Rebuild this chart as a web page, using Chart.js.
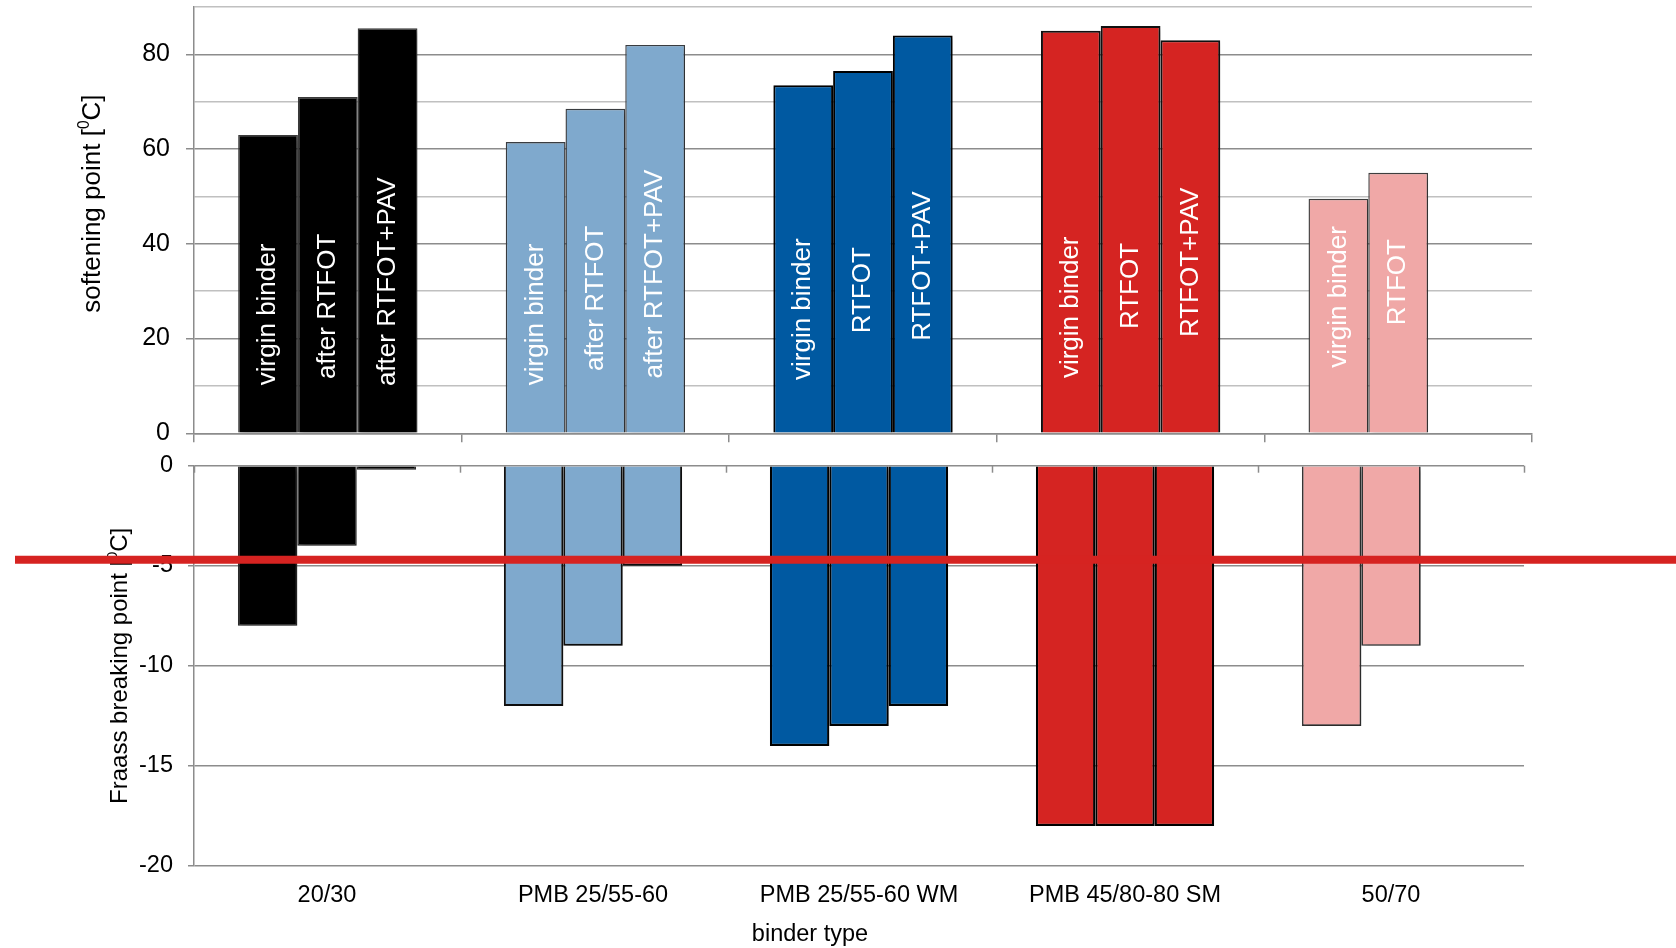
<!DOCTYPE html>
<html>
<head>
<meta charset="utf-8">
<script src="https://cdn.jsdelivr.net/npm/chart.js@4.4.1/dist/chart.umd.min.js"></script>
<style>
  html, body { margin: 0; padding: 0; background: #ffffff; }
  #wrap { position: relative; width: 1676px; height: 948px; overflow: hidden; }
  #wrap canvas { position: absolute; left: 0; top: 0; }
</style>
</head>
<body>
<div id="wrap">
  <canvas id="soft" width="1676" height="948"></canvas>
  <canvas id="fraass" width="1676" height="948"></canvas>
</div>
<script>
// ---- data ----
const categories = ['20/30', 'PMB 25/55-60', 'PMB 25/55-60 WM', 'PMB 45/80-80 SM', '50/70'];

// softening point [°C]
const softVirgin = [63, 61.5, 73.5, 85, 49.5];
const softRtfot  = [71, 68.5, 76.5, 86, 55];
const softPav    = [85.5, 82, 84, 83, null];

// Fraass breaking point [°C]
const fraassVirgin = [-8, -12, -14, -18, -13];
const fraassRtfot  = [-4, -9, -13, -18, -9];
const fraassPav    = [-0.2, -5, -12, -18, null];

const softTicks   = [0, 20, 40, 60, 80];
const fraassTicks = [0, -5, -10, -15, -20];

// reference level across the Fraass panel
const fraassLimit = -4.7;

// text written inside the softening-point bars
const barTags = [
  ['virgin binder', 'virgin binder', 'virgin binder', 'virgin binder', 'virgin binder'],
  ['after RTFOT', 'after RTFOT', 'RTFOT', 'RTFOT', 'RTFOT'],
  ['after RTFOT+PAV', 'after RTFOT+PAV', 'RTFOT+PAV', 'RTFOT+PAV', null]
];
// value (°C) at which each inside text is centred
const tagCentre = [
  [25.1, 25.1, 26.2, 26.6, 28.8],
  [26.8, 28.5, 30.2, 31.1, 31.9],
  [32.0, 33.6, 35.3, 36.1, null]
];

// ---- styling ----
const FONT = "'Liberation Sans', Arial, Helvetica, sans-serif";
const groupFill     = ['#000000', '#7FA9CD', '#0059A1', '#D52422', '#F0A8A7'];
const softEdge      = ['#3c3c3c', '#3b3e42', '#000000', '#111111', '#404040'];
const softEdgeW     = [1.4, 1.4, 2.0, 2.0, 1.4];
const fraassEdge    = ['#2e2e2e', '#111111', '#000000', '#000000', '#363636'];
const fraassEdgeW   = [1.4, 2.0, 2.2, 2.2, 1.7];
const GRID_MAJOR = '#8c8c8c';
const GRID_MINOR = '#c0c0c0';

function barSet(label, values, edge, edgeW) {
  return {
    label: label,
    data: values,
    backgroundColor: groupFill,
    borderColor: edge,
    borderWidth: edgeW,
    barPercentage: 1.0,
    categoryPercentage: 0.67
  };
}

// keep the plot box exactly where the padding puts it
function fixAxisBox(width) {
  return function (scale) {
    if (width !== undefined) scale.width = width;
    scale.paddingTop = 0;
    scale.paddingBottom = 0;
  };
}

// soft drop shadow under the bars
const barShadow = {
  id: 'barShadow',
  beforeDatasetsDraw(chart) {
    const ctx = chart.ctx;
    ctx.save();
    ctx.shadowColor = 'rgba(0,0,0,0.32)';
    ctx.shadowBlur = 5;
    ctx.shadowOffsetX = 2;
    ctx.shadowOffsetY = 3;
  },
  afterDatasetsDraw(chart) {
    chart.ctx.restore();
  }
};

// rotated axis title with a superscript part
function drawRotatedTitle(ctx, parts, baseX, centreY, size) {
  ctx.save();
  ctx.translate(baseX, centreY);
  ctx.rotate(-Math.PI / 2);
  ctx.fillStyle = '#000';
  ctx.textBaseline = 'alphabetic';
  ctx.textAlign = 'left';
  let total = 0;
  const widths = parts.map(p => {
    ctx.font = (p.sup ? size * 0.6 : size) + 'px ' + FONT;
    const w = ctx.measureText(p.t).width;
    total += w;
    return w;
  });
  let x = -total / 2;
  parts.forEach((p, i) => {
    ctx.font = (p.sup ? size * 0.6 : size) + 'px ' + FONT;
    ctx.fillText(p.t, x, p.sup ? -size * 0.42 : 0);
    x += widths[i];
  });
  ctx.restore();
}

// labels inside the softening-point bars + axis title
const softDecor = {
  id: 'softDecor',
  afterDatasetsDraw(chart) {
    const ctx = chart.ctx;
    const ys = chart.scales.y;
    ctx.save();
    ctx.fillStyle = '#ffffff';
    ctx.font = '26px ' + FONT;
    ctx.textAlign = 'center';
    ctx.textBaseline = 'middle';
    barTags.forEach((row, s) => {
      const meta = chart.getDatasetMeta(s);
      row.forEach((txt, i) => {
        if (!txt) return;
        const bar = meta.data[i];
        const y = ys.getPixelForValue(tagCentre[s][i]);
        ctx.save();
        ctx.translate(bar.x, y);
        ctx.rotate(-Math.PI / 2);
        ctx.fillText(txt, 0, 0);
        ctx.restore();
      });
    });
    ctx.restore();
  },
  afterDraw(chart) {
    const ys = chart.scales.y;
    drawRotatedTitle(chart.ctx,
      [{ t: 'softening point [' }, { t: '0', sup: true }, { t: 'C]' }],
      100, ys.getPixelForValue(48.5), 26);
  }
};

// short ticks below the zero line, axis titles and the reference level
const fraassDecor = {
  id: 'fraassDecor',
  afterDraw(chart) {
    const ctx = chart.ctx;
    const xs = chart.scales.x;
    const ys = chart.scales.y;
    const y0 = ys.getPixelForValue(0);
    ctx.save();
    ctx.strokeStyle = GRID_MAJOR;
    ctx.lineWidth = 1.5;
    for (let i = 0; i <= categories.length; i++) {
      const px = Math.round(xs.getPixelForValue(i - 0.5)) + 0.5;
      ctx.beginPath();
      ctx.moveTo(px, y0);
      ctx.lineTo(px, y0 + 7);
      ctx.stroke();
    }
    ctx.restore();

    drawRotatedTitle(ctx,
      [{ t: 'Fraass breaking point [' }, { t: '0', sup: true }, { t: 'C]' }],
      127, (ys.top + ys.bottom) / 2, 24);

    ctx.save();
    ctx.fillStyle = '#000';
    ctx.font = '23.5px ' + FONT;
    ctx.textAlign = 'center';
    ctx.textBaseline = 'middle';
    ctx.fillText('binder type', 810, 935);
    ctx.restore();

    const yl = ys.getPixelForValue(fraassLimit);
    ctx.save();
    ctx.strokeStyle = '#D62321';
    ctx.lineWidth = 8;
    ctx.beginPath();
    ctx.moveTo(15, yl);
    ctx.lineTo(chart.width, yl);
    ctx.stroke();
    ctx.restore();
  }
};

Chart.defaults.font.family = FONT;
Chart.defaults.color = '#000000';

// ---- softening point panel ----
new Chart(document.getElementById('soft'), {
  type: 'bar',
  data: {
    labels: categories,
    datasets: [
      barSet('virgin binder', softVirgin, softEdge, softEdgeW),
      barSet('after RTFOT', softRtfot, softEdge, softEdgeW),
      barSet('after RTFOT+PAV', softPav, softEdge, softEdgeW)
    ]
  },
  options: {
    responsive: false,
    animation: false,
    devicePixelRatio: 1,
    layout: { autoPadding: false, padding: { top: 7, right: 144, bottom: 504.7, left: 0 } },
    plugins: { legend: { display: false }, tooltip: { enabled: false } },
    scales: {
      x: {
        afterFit(scale) { scale.height = 10; },
        ticks: { display: false },
        grid: {
          offset: true,
          drawOnChartArea: false,
          drawTicks: true,
          tickLength: 9,
          color: GRID_MAJOR,
          lineWidth: 1.5
        },
        border: { display: true, color: GRID_MAJOR, width: 1.5 }
      },
      y: {
        min: 0,
        max: 90,
        afterFit: fixAxisBox(194),
        ticks: {
          stepSize: 10,
          padding: 16,
          font: { size: 25 },
          callback: v => softTicks.includes(v) ? String(v) : ''
        },
        grid: {
          color: c => softTicks.includes(c.tick.value) ? GRID_MAJOR : GRID_MINOR,
          tickColor: c => softTicks.includes(c.tick.value) ? GRID_MAJOR : 'rgba(0,0,0,0)',
          lineWidth: 1.5,
          tickLength: 8
        },
        border: { display: true, color: GRID_MAJOR, width: 1.5 }
      }
    }
  },
  plugins: [barShadow, softDecor]
});

// ---- Fraass breaking point panel ----
new Chart(document.getElementById('fraass'), {
  type: 'bar',
  data: {
    labels: categories,
    datasets: [
      barSet('virgin binder', fraassVirgin, fraassEdge, fraassEdgeW),
      barSet('after RTFOT', fraassRtfot, fraassEdge, fraassEdgeW),
      barSet('after RTFOT+PAV', fraassPav, fraassEdge, fraassEdgeW)
    ]
  },
  options: {
    responsive: false,
    animation: false,
    devicePixelRatio: 1,
    layout: { autoPadding: false, padding: { top: 465.7, right: 152, bottom: 32, left: 0 } },
    plugins: { legend: { display: false }, tooltip: { enabled: false } },
    scales: {
      x: {
        afterFit(scale) { scale.height = 50; },
        ticks: { padding: 15, font: { size: 23.5 }, maxRotation: 0, autoSkip: false },
        grid: { display: false, drawTicks: false, offset: true },
        border: { display: false }
      },
      y: {
        min: -20,
        max: 0,
        afterFit: fixAxisBox(194),
        ticks: {
          stepSize: 5,
          padding: 15,
          font: { size: 23.5 },
          callback: v => fraassTicks.includes(v) ? String(v) : ''
        },
        grid: { color: GRID_MAJOR, lineWidth: 1.5, tickLength: 6 },
        border: { display: true, color: GRID_MAJOR, width: 1.5 }
      }
    }
  },
  plugins: [barShadow, fraassDecor]
});
</script>
</body>
</html>
